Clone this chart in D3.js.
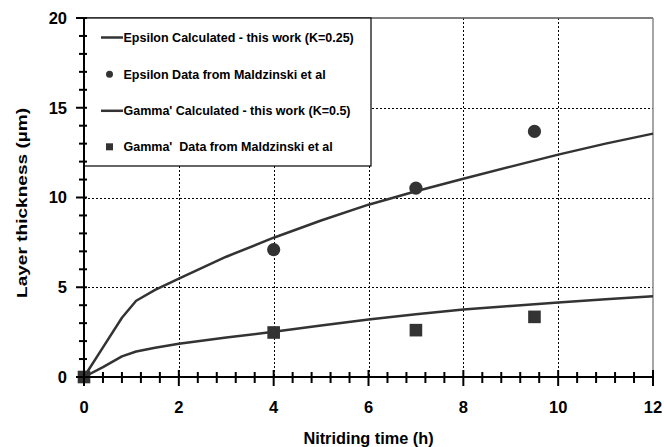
<!DOCTYPE html>
<html><head><meta charset="utf-8">
<script src="https://cdn.jsdelivr.net/npm/d3@7"></script>
<style>
body{margin:0;background:#fff;color:#000;}
text{font-family:"Liberation Sans",Arial,sans-serif;font-weight:bold;fill:#000;}
</style></head>
<body><svg id="c" width="664" height="447"></svg>
<script>
const calcTimes = [0, 0.4, 0.8, 1.1, 1.5, 2, 3, 4, 5, 6, 7, 8, 9, 10, 11, 12];
const epsilonCalc = [0, 1.65, 3.3, 4.25, 4.85, 5.48, 6.7, 7.76, 8.72, 9.6, 10.35, 11.04, 11.72, 12.39, 13.0, 13.56];
const gammaCalc = [0, 0.55, 1.15, 1.42, 1.63, 1.85, 2.2, 2.52, 2.87, 3.2, 3.49, 3.76, 3.96, 4.15, 4.33, 4.5];
const epsilonDataTimes = [4, 7, 9.5];
const epsilonData = [7.1, 10.52, 13.68];
const gammaDataTimes = [0, 4, 7, 9.5];
const gammaData = [0, 2.48, 2.61, 3.35];
const xTicks = [0, 2, 4, 6, 8, 10, 12];
const yTicks = [0, 5, 10, 15, 20];
const legendLabels = ["Epsilon Calculated - this work (K=0.25)", "Epsilon Data from Maldzinski et al",
  "Gamma' Calculated - this work (K=0.5)", "Gamma'  Data from Maldzinski et al"];

const svg = d3.select("#c");
const x = d3.scaleLinear().domain([0, 12]).range([84, 653]);
const y = d3.scaleLinear().domain([0, 20]).range([377, 18]);
const dark = "#333";

// grid
const grid = svg.append("g").attr("stroke", "#000").attr("stroke-width", 1).attr("stroke-dasharray", "2,2");
xTicks.filter(d => d > 0 && d < 12).forEach(d => grid.append("line")
  .attr("x1", Math.round(x(d)) + 0.5).attr("x2", Math.round(x(d)) + 0.5).attr("y1", y(20)).attr("y2", y(0)));
yTicks.filter(d => d > 0 && d < 20).forEach(d => grid.append("line")
  .attr("y1", Math.round(y(d)) + 0.5).attr("y2", Math.round(y(d)) + 0.5).attr("x1", x(0)).attr("x2", x(12)));

// frame top/right
svg.append("line").attr("x1", x(0)).attr("x2", x(12)).attr("y1", y(20)).attr("y2", y(20)).attr("stroke", "#555").attr("stroke-width", 1.5);
svg.append("line").attr("x1", x(12)).attr("x2", x(12)).attr("y1", y(20)).attr("y2", y(0)).attr("stroke", "#888").attr("stroke-width", 1.5);

// legend box
const lg = svg.append("g");
lg.append("rect").attr("x", x(0)).attr("y", y(20)).attr("width", 287).attr("height", 148)
  .attr("fill", "#fff").attr("stroke", "#000").attr("stroke-width", 1.2);
const rows = [37.5, 74.3, 110.8, 146.8];
lg.append("line").attr("x1", 101).attr("x2", 123).attr("y1", rows[0]).attr("y2", rows[0]).attr("stroke", dark).attr("stroke-width", 2.5);
lg.append("circle").attr("cx", 109.5).attr("cy", rows[1]).attr("r", 3.5).attr("fill", dark);
lg.append("line").attr("x1", 101).attr("x2", 123).attr("y1", rows[2]).attr("y2", rows[2]).attr("stroke", dark).attr("stroke-width", 2.5);
lg.append("rect").attr("x", 106).attr("y", rows[3] - 3.5).attr("width", 7).attr("height", 7).attr("fill", dark);
legendLabels.forEach((t, i) => lg.append("text").attr("x", 123.5).attr("y", rows[i] + 4.5)
  .style("font-size", "12.5px").style("white-space", "pre").text(t));

// curves
const line = d3.line().x((d, i) => x(calcTimes[i])).y(d => y(d));
svg.append("path").datum(epsilonCalc).attr("d", line).attr("fill", "none").attr("stroke", dark).attr("stroke-width", 2.5).attr("stroke-linejoin", "round");
svg.append("path").datum(gammaCalc).attr("d", line).attr("fill", "none").attr("stroke", dark).attr("stroke-width", 2.5).attr("stroke-linejoin", "round");

// data markers
svg.append("g").selectAll("circle").data(epsilonData).join("circle")
  .attr("cx", (d, i) => x(epsilonDataTimes[i])).attr("cy", d => y(d)).attr("r", 6.6).attr("fill", dark);
svg.append("g").selectAll("rect").data(gammaData).join("rect")
  .attr("x", (d, i) => x(gammaDataTimes[i]) - 6.3).attr("y", d => y(d) - 6.3).attr("width", 12.6).attr("height", 12.6).attr("fill", dark);

// axes drawn last: ticks via scales
const ax = svg.append("g");
const xMinor = d3.range(0, 31, 1).map(v => v * 0.4);
const yMinor = d3.range(0, 21, 1);
const isMajX = d => xTicks.some(t => Math.abs(t - d) < 1e-6);
const isMajY = d => yTicks.includes(d);
ax.append("path").attr("d", `M${x(0)},${y(20)}V${y(0)}H${x(12)}`).attr("fill", "none").attr("stroke", "#000").attr("stroke-width", 2);
xMinor.forEach(d => ax.append("line")
  .attr("x1", x(d)).attr("x2", x(d))
  .attr("y1", y(0) - (isMajX(d) ? 7 : 5)).attr("y2", y(0) + (isMajX(d) ? 9 : 6))
  .style("stroke", "#000").style("stroke-width", "2px"));
yMinor.forEach(d => ax.append("line")
  .attr("y1", y(d)).attr("y2", y(d))
  .attr("x1", x(0) - (isMajY(d) ? 8 : 5)).attr("x2", x(0) + 3)
  .style("stroke", "#000").style("stroke-width", "2px"));
ax.selectAll("text.xl").data(xTicks).join("text").attr("class", "xl")
  .attr("x", d => x(d)).attr("y", y(0) + 36).attr("text-anchor", "middle").style("font-size", "16.5px").text(d3.format("d"));
ax.selectAll("text.yl").data(yTicks).join("text").attr("class", "yl")
  .attr("x", x(0) - 17).attr("y", d => y(d)).attr("dy", "0.36em").attr("text-anchor", "end").style("font-size", "16.5px").text(d3.format("d"));

// titles
svg.append("text").attr("x", 368.5).attr("y", 444).attr("text-anchor", "middle").style("font-size", "16.3px").text("Nitriding time (h)");
svg.append("text").attr("transform", "translate(26.7,203) rotate(-90)").attr("text-anchor", "middle")
  .style("font-size", "14.5px").attr("textLength", 190).attr("lengthAdjust", "spacingAndGlyphs").text("Layer thickness (µm)");
</script></body></html>
